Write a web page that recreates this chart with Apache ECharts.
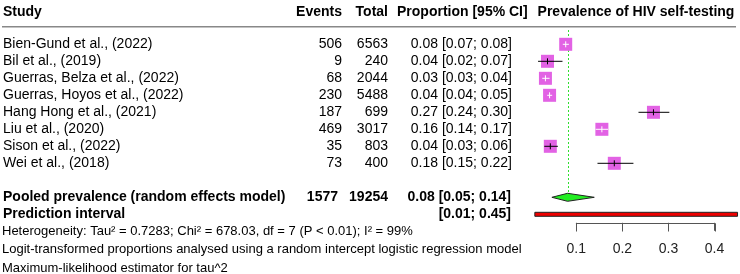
<!DOCTYPE html>
<html>
<head>
<meta charset="utf-8">
<script src="https://cdn.jsdelivr.net/npm/echarts@6/dist/echarts.min.js"></script>
<style>
html, body { margin: 0; padding: 0; background: #fff; }
#forest { width: 740px; height: 274px; }
</style>
</head>
<body>
<div id="forest"></div>
<script>
// 研究数据
var studies = ['Bien-Gund et al., (2022)', 'Bil et al., (2019)', 'Guerras, Belza et al., (2022)', 'Guerras, Hoyos et al., (2022)',
  'Hang Hong et al., (2021)', 'Liu et al., (2020)', 'Sison et al., (2022)', 'Wei et al., (2018)'];
var events = [506, 9, 68, 230, 187, 469, 35, 73];
var totals = [6563, 240, 2044, 5488, 699, 3017, 803, 400];
var props = [0.077, 0.0375, 0.033, 0.042, 0.2675, 0.1555, 0.0436, 0.1825];
var ciLow = [0.0707, 0.017, 0.026, 0.0368, 0.235, 0.142, 0.0305, 0.146];
var ciHigh = [0.0839, 0.070, 0.042, 0.0476, 0.302, 0.169, 0.060, 0.224];
var ciText = ['0.08 [0.07; 0.08]', '0.04 [0.02; 0.07]', '0.03 [0.03; 0.04]', '0.04 [0.04; 0.05]',
  '0.27 [0.24; 0.30]', '0.16 [0.14; 0.17]', '0.04 [0.03; 0.06]', '0.18 [0.15; 0.22]'];

// 合并结果
var pooledLabel = 'Pooled prevalence (random effects model)';
var pooledEvents = 1577;
var pooledTotal = 19254;
var pooledEst = [0.081, 0.047, 0.139]; // est, low, high
var pooledText = '0.08 [0.05; 0.14]';
var predLabel = 'Prediction interval';
var predInt = [0.01, 0.45];
var predText = '[0.01; 0.45]';

var headers = ['Study', 'Events', 'Total', 'Proportion [95% CI]', 'Prevalence of HIV self-testing'];
var xTicks = [0.1, 0.2, 0.3, 0.4];
var footNotes = [
  'Heterogeneity: Tau\u00b2 = 0.7283; Chi\u00b2 = 678.03, df = 7 (P < 0.01); I\u00b2 = 99%',
  'Logit-transformed proportions analysed using a random intercept logistic regression model',
  'Maximum-likelihood estimator for tau^2'
];

var FONT = '"Liberation Sans", Arial, sans-serif';
var SQ = '#e262e4';
var POOLED_ROW = 9, PRED_ROW = 10, HEADER_ROW = -1.92, RULE_ROW = -1.035;
var Y_MIN = -1, Y_MAX = 10.5;
var FOOT_ROWS = [10.98, 12.06, 13.16];

// 表格单元格
var cells = [];
function cell(x, row, text, align, bold, size) {
  cells.push({x: x, row: row, text: text, align: align, bold: bold, size: size || 14});
}
cell(3, HEADER_ROW, headers[0], 'left', true);
cell(342, HEADER_ROW, headers[1], 'right', true);
cell(388, HEADER_ROW, headers[2], 'right', true);
cell(397, HEADER_ROW, headers[3], 'left', true);
cell(636, HEADER_ROW, headers[4], 'center', true);
studies.forEach(function (s, i) {
  cell(3, i, s, 'left', false);
  cell(342, i, String(events[i]), 'right', false);
  cell(388, i, String(totals[i]), 'right', false);
  cell(512, i, ciText[i], 'right', false);
});
cell(3, POOLED_ROW, pooledLabel, 'left', true);
cell(338, POOLED_ROW, String(pooledEvents), 'right', true);
cell(388, POOLED_ROW, String(pooledTotal), 'right', true);
cell(511, POOLED_ROW, pooledText, 'right', true);
cell(3, PRED_ROW, predLabel, 'left', true);
cell(511, PRED_ROW, predText, 'right', true);
footNotes.forEach(function (f, i) {
  cell(2, FOOT_ROWS[i], f, 'left', false, 13);
});

var myChart = echarts.init(document.getElementById('forest'), null, {renderer: 'canvas'});

var option = {
  animation: false,
  grid: {left: 576.3, right: 25.5, top: 27.3, bottom: 51.2},
  xAxis: {
    type: 'value', min: 0.1, max: 0.4, interval: 0.1, position: 'bottom', z: 10,
    axisLine: {show: true, onZero: false, lineStyle: {color: '#555', width: 1}},
    axisTick: {show: true, length: 8, lineStyle: {color: '#555', width: 1}},
    axisLabel: {margin: 19, color: '#222', fontSize: 14},
    splitLine: {show: false}
  },
  yAxis: {type: 'value', min: Y_MIN, max: Y_MAX, inverse: true, show: false},
  series: [
    // 合并估计竖线
    {
      type: 'custom', clip: false, silent: true,
      data: [[pooledEst[0], -0.84, POOLED_ROW - 0.24]],
      renderItem: function (params, api) {
        var a = api.coord([api.value(0), api.value(1)]);
        var b = api.coord([api.value(0), api.value(2)]);
        var x = Math.round(a[0]) + 0.5;
        return {
          type: 'line', shape: {x1: x, y1: a[1], x2: x, y2: b[1]},
          style: {stroke: '#2ee02e', lineWidth: 1, lineDash: [2, 2]}
        };
      }
    },
    // 各研究方块与置信区间
    {
      type: 'custom', clip: false, silent: true,
      data: props.map(function (p, i) { return [p, i, ciLow[i], ciHigh[i]]; }),
      renderItem: function (params, api) {
        var c = api.coord([api.value(0), api.value(1)]);
        var lo = api.coord([api.value(2), api.value(1)]);
        var hi = api.coord([api.value(3), api.value(1)]);
        var s = 13;
        var inside = lo[0] >= c[0] - s / 2 && hi[0] <= c[0] + s / 2;
        var col = inside ? '#fff' : '#000';
        return {
          type: 'group',
          children: [
            {type: 'rect', shape: {x: c[0] - s / 2, y: c[1] - s / 2, width: s, height: s}, style: {fill: SQ}},
            {type: 'line', shape: {x1: lo[0], y1: c[1], x2: hi[0], y2: c[1]}, style: {stroke: col, lineWidth: 1}},
            {type: 'line', shape: {x1: c[0], y1: c[1] - 3, x2: c[0], y2: c[1] + 3}, style: {stroke: col, lineWidth: 1}}
          ]
        };
      }
    },
    // 合并菱形
    {
      type: 'custom', clip: false, silent: true,
      data: [[pooledEst[0], POOLED_ROW, pooledEst[1], pooledEst[2]]],
      renderItem: function (params, api) {
        var c = api.coord([api.value(0), api.value(1)]);
        var lo = api.coord([api.value(2), api.value(1)]);
        var hi = api.coord([api.value(3), api.value(1)]);
        return {
          type: 'polygon',
          shape: {points: [[lo[0], c[1]], [c[0], c[1] - 4], [hi[0], c[1]], [c[0], c[1] + 4]]},
          style: {fill: '#22ee22', stroke: '#222', lineWidth: 1}
        };
      }
    },
    // 预测区间
    {
      type: 'custom', clip: false, silent: true,
      data: [[predInt[0], PRED_ROW, predInt[1]]],
      renderItem: function (params, api) {
        var lo = api.coord([api.value(0), api.value(1)]);
        var hi = api.coord([api.value(2), api.value(1)]);
        return {
          type: 'rect',
          shape: {x: lo[0], y: lo[1] - 2, width: hi[0] - lo[0], height: 4},
          style: {fill: '#ee0000', stroke: '#222', lineWidth: 1}
        };
      }
    }
  ]
};

myChart.setOption(option);

// 表格文字：行位置用同一个 y 轴换算
var rowY = function (r) { return myChart.convertToPixel({yAxisIndex: 0}, r); };
var tickX = function (t) { return myChart.convertToPixel({xAxisIndex: 0}, t); };
var graphics = cells.map(function (c) {
  return {
    type: 'text', x: c.x, y: rowY(c.row), silent: true,
    style: {
      text: c.text, fill: '#000', textAlign: c.align, textVerticalAlign: 'middle',
      font: (c.bold ? 'bold ' : '') + c.size + 'px ' + FONT
    }
  };
});
var ruleY = rowY(RULE_ROW);
graphics.push({type: 'line', silent: true, shape: {x1: 2, y1: ruleY, x2: 736, y2: ruleY},
  style: {stroke: '#888', lineWidth: 1.5}});

// 横轴线与刻度（再画一遍，保证可见）
var axisY = Math.round(rowY(Y_MAX)) + 0.5;
var x0 = Math.round(tickX(xTicks[0])) + 0.5;
var x1 = Math.round(tickX(xTicks[xTicks.length - 1])) + 0.5;
graphics.push({type: 'line', silent: true, z: 100, shape: {x1: x0, y1: axisY, x2: x1, y2: axisY},
  style: {stroke: '#555', lineWidth: 1}});
xTicks.forEach(function (t) {
  var tx = Math.round(tickX(t)) + 0.5;
  graphics.push({type: 'line', silent: true, z: 100, shape: {x1: tx, y1: axisY, x2: tx, y2: axisY + 8},
    style: {stroke: '#555', lineWidth: 1}});
});
myChart.setOption({graphic: graphics});
</script>
</body>
</html>
